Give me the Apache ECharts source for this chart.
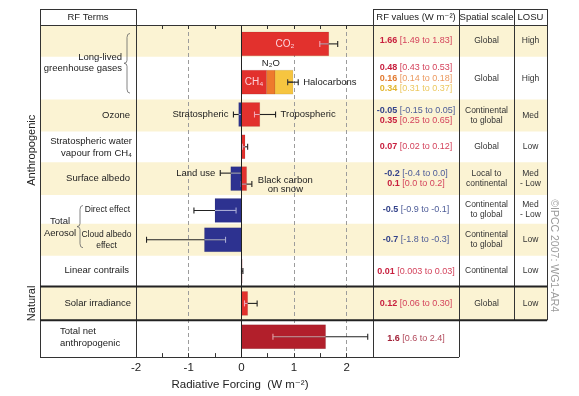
<!DOCTYPE html>
<html>
<head>
<meta charset="utf-8">
<title>Radiative forcing components</title>
<script src="https://cdn.jsdelivr.net/npm/echarts@6/dist/echarts.min.js"></script>
<style>
  html, body { margin: 0; padding: 0; background: #fff; }
  #chart { width: 579px; height: 396px; }
</style>
</head>
<body>
<div id="chart"></div>
<script>
// ---- values ----
var barNames = ['CO₂', 'CH₄', 'N₂O', 'Halocarbons', 'Stratospheric ozone', 'Tropospheric ozone',
  'Stratospheric water vapour', 'Land use', 'Black carbon on snow', 'Aerosol direct effect',
  'Cloud albedo effect', 'Linear contrails', 'Solar irradiance', 'Total net anthropogenic'];
var barRow = [0, 1, 1, 1, 2, 2, 3, 4, 4, 5, 6, 7, 8, 9];
var barValue = [1.66, 0.48, 0.16, 0.34, -0.05, 0.35, 0.07, -0.2, 0.1, -0.5, -0.7, 0.01, 0.12, 1.6];
var barTone = ['red', 'red', 'orange', 'yellow', 'blue', 'red', 'red', 'blue', 'red', 'blue', 'blue', 'red', 'red', 'darkred'];
// uncertainty whiskers as drawn on the plot
var whiskerLow = [1.49, null, null, 0.88, -0.15, 0.25, 0.02, -0.4, 0.0, -0.9, -1.8, 0.003, 0.06, 0.6];
var whiskerHigh = [1.83, null, null, 1.08, 0.05, 0.65, 0.12, 0.0, 0.2, -0.1, -0.3, 0.03, 0.30, 2.4];
var barLabel = ['CO₂', 'CH₄', 'N₂O', 'Halocarbons', 'Stratospheric', 'Tropospheric', '',
  'Land use', 'Black carbon\non snow', '', '', '', '', ''];

var headers = ['RF Terms', 'RF values (W m⁻²)', 'Spatial scale', 'LOSU'];
var termText = ['Long-lived\ngreenhouse gases', 'Ozone', 'Stratospheric water\nvapour from CH₄',
  'Surface albedo', 'Total\nAerosol', 'Direct effect', 'Cloud albedo\neffect', 'Linear contrails',
  'Solar irradiance', 'Total net\nanthropogenic'];
var groupText = ['Anthropogenic', 'Natural'];

var rfValue = [['1.66'], ['0.48', '0.16', '0.34'], ['-0.05', '0.35'], ['0.07'], ['-0.2', '0.1'],
  ['-0.5'], ['-0.7'], ['0.01'], ['0.12'], ['1.6']];
var rfRange = [['[1.49 to 1.83]'], ['[0.43 to 0.53]', '[0.14 to 0.18]', '[0.31 to 0.37]'],
  ['[-0.15 to 0.05]', '[0.25 to 0.65]'], ['[0.02 to 0.12]'], ['[-0.4 to 0.0]', '[0.0 to 0.2]'],
  ['[-0.9 to -0.1]'], ['[-1.8 to -0.3]'], ['[0.003 to 0.03]'], ['[0.06 to 0.30]'], ['[0.6 to 2.4]']];
var rfTone = [['red'], ['red', 'orange', 'yellow'], ['blue', 'red'], ['red'], ['blue', 'red'],
  ['blue'], ['blue'], ['red'], ['red'], ['darkred']];
var spatialScale = ['Global', 'Global', 'Continental\nto global', 'Global', 'Local to\ncontinental',
  'Continental\nto global', 'Continental\nto global', 'Continental', 'Global', ''];
var losu = ['High', 'High', 'Med', 'Low', 'Med\n- Low', 'Med\n- Low', 'Low', 'Low', 'Low', ''];
var credit = '©IPCC 2007: WG1-AR4';

// ---- layout / style ----
var FONT = '"Liberation Sans", Arial, "DejaVu Sans", sans-serif';
var W = 579, H = 396;
var COLS = [40, 136, 373, 459, 514, 547];
var PLOT_TOP = 25, HEADER_U = -16;
var rowHeights = [32, 43, 32, 31, 33, 29, 32, 31, 34, 37];
var rowBarShift = [3, 4, -1, 0, 0, 1, 0, 0, 0, -2];
var yellowRows = [0, 2, 4, 6, 8];
var BAR_H = 24;
var whiskerShift = [0, 0, 0, 0, 0, 0, 0, -5.5, 5.5, 0, 0, 0, 0, 0];
var labelPlace = ['inside', 'inside', 'top', 'right', 'left', 'right', null, 'left', 'rightBlock', null, null, null, null, null];

var palette = {
  red: { bar: '#e2312d', inner: '#f4a6b4', value: '#c81f3e', range: '#d4435c' },
  orange: { bar: '#ee7a2c', inner: '#333', value: '#e27a30', range: '#eb9a60' },
  yellow: { bar: '#f6c540', inner: '#333', value: '#e3b630', range: '#ecc860' },
  blue: { bar: '#2d3290', inner: '#a7aad4', value: '#34438a', range: '#4d5c98' },
  darkred: { bar: '#b21f2b', inner: '#e8a0a6', value: '#a3233a', range: '#b24a5c' }
};

var rowTop = [];
(function () {
  var acc = 0;
  rowHeights.forEach(function (h) { rowTop.push(acc); acc += h; });
})();
var PLOT_H = rowHeights.reduce(function (a, b) { return a + b; }, 0);

function rowCenter(r) { return rowTop[r] + rowHeights[r] / 2; }

// stack same-sign values that share a row
var barBase = barValue.map(function (v, i) {
  var b = 0;
  for (var j = 0; j < i; j++) {
    if (barRow[j] === barRow[i] && (barValue[j] >= 0) === (v >= 0)) b += barValue[j];
  }
  return b;
});

var measureCtx = document.createElement('canvas').getContext('2d');
function textWidth(str, size) {
  measureCtx.font = size + 'px ' + FONT;
  return Math.max.apply(Math, str.split('\n').map(function (s) { return measureCtx.measureText(s).width; }));
}

function seg(x1, y1, x2, y2, color, w) {
  return { type: 'line', shape: { x1: x1, y1: y1, x2: x2, y2: y2 }, style: { stroke: color, lineWidth: w || 1 } };
}
function txt(x, y, text, o) {
  var s = { x: x, y: y, text: text, fontFamily: FONT, fontSize: 9, fill: '#222', align: 'center', verticalAlign: 'middle' };
  for (var k in (o || {})) s[k] = o[k];
  return { type: 'text', style: s };
}

function renderBands(params, api) {
  var kids = yellowRows.map(function (r) {
    var y0 = api.coord([0, rowTop[r]])[1];
    var y1 = api.coord([0, rowTop[r] + rowHeights[r]])[1];
    return { type: 'rect', shape: { x: COLS[0], y: y0, width: COLS[5] - COLS[0], height: y1 - y0 }, style: { fill: '#fbf3d3' } };
  });
  return { type: 'group', children: kids };
}

function renderBar(params, api) {
  var i = params.dataIndex;
  var r = barRow[i];
  var v = api.value(0);
  var pal = palette[barTone[i]];
  var X = function (x) { return api.coord([x, 0])[0]; };
  var xa = X(barBase[i]), xb = X(barBase[i] + v);
  var left = Math.min(xa, xb), right = Math.max(xa, xb);
  var yc = api.coord([0, rowCenter(r) + rowBarShift[r]])[1];
  var h = api.size([0, BAR_H])[1];
  var kids = [{
    type: 'rect',
    shape: { x: left, y: yc - h / 2, width: Math.max(right - left, 0.8), height: h },
    style: { fill: pal.bar, stroke: 'rgba(0,0,0,0.15)', lineWidth: 0.6 }
  }];
  var wy = yc + whiskerShift[i];
  var wl = null, wh = null;
  if (whiskerLow[i] != null) {
    wl = X(whiskerLow[i]); wh = X(whiskerHigh[i]);
    kids.push(seg(wl, wy, wh, wy, '#222', 1.1));
    var il = Math.max(wl, left), ir = Math.min(wh, right);
    if (ir > il) kids.push(seg(il, wy, ir, wy, pal.inner, 1.1));
    [wl, wh].forEach(function (x) {
      var inside = x >= left - 0.2 && x <= right - 0.5 && right - left > 3;
      kids.push(seg(x, wy - 3, x, wy + 3, inside ? pal.inner : '#222', 1.1));
    });
  }
  var label = barLabel[i], place = labelPlace[i];
  if (label && place) {
    if (place === 'inside') {
      kids.push(txt((left + right) / 2, yc, label, { fontSize: 10, fill: '#fbd3dc' }));
    } else if (place === 'top') {
      kids.push(txt((left + right) / 2, yc - h / 2 - 7, label, { fontSize: 9.5 }));
    } else if (place === 'left') {
      kids.push(txt(wl - 5, wy, label, { fontSize: 9.5, align: 'right' }));
    } else if (place === 'right') {
      kids.push(txt(wh + 5, wy, label, { fontSize: 9.5, align: 'left' }));
    } else if (place === 'rightBlock') {
      var bw = textWidth(label, 9.5);
      kids.push(txt(wh + 6 + bw / 2, wy + 1, label, { fontSize: 9.5, lineHeight: 9 }));
    }
  }
  return { type: 'group', children: kids };
}

function brace(x, y0, y1) {
  var ym = (y0 + y1) / 2, xe = x - 1, xt = x - 4;
  var d = 'M' + (x + 2) + ',' + y0 + ' Q' + xe + ',' + y0 + ' ' + xe + ',' + (y0 + 4) +
    ' L' + xe + ',' + (ym - 3) + ' Q' + xe + ',' + ym + ' ' + xt + ',' + ym +
    ' Q' + xe + ',' + ym + ' ' + xe + ',' + (ym + 3) +
    ' L' + xe + ',' + (y1 - 4) + ' Q' + xe + ',' + y1 + ' ' + (x + 2) + ',' + y1;
  return { type: 'path', shape: { pathData: d }, style: { stroke: '#666', lineWidth: 0.8, fill: null } };
}

function renderFrame(params, api) {
  var Y = function (u) { return api.coord([0, u])[1]; };
  var X = function (v) { return api.coord([v, 0])[0]; };
  var kids = [];
  var crisp = function (p) { return Math.round(p) + 0.5; };
  var dark = '#333';
  var yHead = Y(HEADER_U), yTop = Y(0), yBot = Y(PLOT_H);
  var yNat = Y(rowTop[8]), yNet = Y(rowTop[9]);

  // zero line
  kids.push(seg(crisp(X(0)), yTop, crisp(X(0)), yBot, '#222', 1));

  // table verticals
  [COLS[0], COLS[1], COLS[2], COLS[3]].forEach(function (x) {
    kids.push(seg(crisp(x), yHead, crisp(x), yBot, dark, 1));
  });
  [COLS[4], COLS[5]].forEach(function (x) {
    kids.push(seg(crisp(x), yHead, crisp(x), yNet, dark, 1));
  });
  // table horizontals
  kids.push(seg(COLS[0], crisp(yHead), COLS[1], crisp(yHead), dark, 1));
  kids.push(seg(COLS[2], crisp(yHead), COLS[5], crisp(yHead), dark, 1));
  kids.push(seg(COLS[0], crisp(yTop), COLS[5], crisp(yTop), dark, 1));
  kids.push(seg(COLS[0], yNat, COLS[5], yNat, '#222', 2));
  kids.push(seg(COLS[0], yNet, COLS[5], yNet, '#222', 2));
  kids.push(seg(COLS[0], crisp(yBot), COLS[3], crisp(yBot), dark, 1));

  // headers
  var hy = (yHead + yTop) / 2;
  kids.push(txt((COLS[0] + COLS[1]) / 2, hy, headers[0], { fontSize: 9.5 }));
  kids.push(txt((COLS[2] + COLS[3]) / 2, hy, headers[1], { fontSize: 9.5 }));
  kids.push(txt((COLS[3] + COLS[4]) / 2, hy, headers[2], { fontSize: 9.5 }));
  kids.push(txt((COLS[4] + COLS[5]) / 2, hy, headers[3], { fontSize: 9.5 }));

  // RF terms column
  var termPos = [
    [122, 38, 'right', 9.5], [130, 91, 'right', 9.5], [132, 123, 'right', 9.5], [130, 154, 'right', 9.5],
    [60, 203.5, 'center', 9.5], [130, 186, 'right', 8.5], [106.5, 216.5, 'center', 8.5],
    [129, 247, 'right', 9.5], [131, 280, 'right', 9.5], [60, 314, 'left', 9.5]
  ];
  termText.forEach(function (t, k) {
    var p = termPos[k];
    kids.push(txt(p[0], Y(p[1]), t, { align: p[2], fontSize: p[3], lineHeight: 11.5 }));
  });
  kids.push(brace(128, Y(8.5), Y(68.5)));
  kids.push(brace(81, Y(181.5), Y(224)));

  // section labels
  [[126, groupText[0]], [280, groupText[1]]].forEach(function (g) {
    kids.push({
      type: 'text', x: 32, y: Y(g[0]), rotation: Math.PI / 2,
      style: { x: 0, y: 0, text: g[1], fontFamily: FONT, fontSize: 11, fill: '#222', align: 'center', verticalAlign: 'middle' }
    });
  });
  kids.push({
    type: 'text', x: 554, y: Y(232), rotation: -Math.PI / 2,
    style: { x: 0, y: 0, text: credit, fontFamily: FONT, fontSize: 10.5, fill: '#9a9a9a', align: 'center', verticalAlign: 'middle' }
  });

  // RF values, spatial scale, LOSU
  rfValue.forEach(function (vals, r) {
    var n = vals.length, c = rowCenter(r);
    vals.forEach(function (v, k) {
      var pal = palette[rfTone[r][k]];
      var u = c + (k - (n - 1) / 2) * 10.8;
      kids.push(txt((COLS[2] + COLS[3]) / 2, Y(u), '{b|' + v + '} {n|' + rfRange[r][k] + '}', {
        fill: pal.range,
        rich: {
          b: { fontWeight: 'bold', fill: pal.value, fontSize: 9, fontFamily: FONT },
          n: { fill: pal.range, fontSize: 9, fontFamily: FONT }
        }
      }));
    });
    if (spatialScale[r]) kids.push(txt((COLS[3] + COLS[4]) / 2, Y(c), spatialScale[r], { fontSize: 8.5, fill: '#333', lineHeight: 10.5 }));
    if (losu[r]) kids.push(txt((COLS[4] + COLS[5]) / 2, Y(c), losu[r], { fontSize: 8.5, fill: '#333', lineHeight: 10.5 }));
  });

  return { type: 'group', children: kids };
}

var axisCommon = {
  type: 'value', min: -2, max: 2.5, interval: 1,
  axisLine: { show: true, onZero: false, lineStyle: { color: '#333', width: 1 } },
  axisTick: { show: true, inside: true, length: 4, lineStyle: { color: '#333' } },
  minorTick: { show: true, splitNumber: 2, length: 4, lineStyle: { color: '#333' } }
};

var chart = echarts.init(document.getElementById('chart'), null, { renderer: 'canvas' });
chart.setOption({
  animation: false,
  textStyle: { fontFamily: FONT },
  grid: { left: COLS[1], right: W - COLS[2], top: PLOT_TOP, bottom: H - PLOT_TOP - PLOT_H },
  xAxis: [
    Object.assign({}, axisCommon, {
      position: 'bottom',
      name: 'Radiative Forcing  (W m⁻²)',
      nameLocation: 'middle', nameGap: 15,
      nameTextStyle: { fontSize: 11.5, color: '#222', fontFamily: FONT, padding: [0, 29, 0, 0] },
      axisLabel: { color: '#222', fontSize: 11.5, margin: 5, showMaxLabel: false, fontFamily: FONT },
      splitLine: { show: true, lineStyle: { color: '#9c9c9c', type: [4, 3], width: 1 } }
    }),
    Object.assign({}, axisCommon, {
      position: 'top',
      axisLabel: { show: false },
      splitLine: { show: false }
    })
  ],
  yAxis: { type: 'value', min: 0, max: PLOT_H, inverse: true, show: false },
  series: [
    { type: 'custom', name: 'bands', z: -1, silent: true, renderItem: renderBands, data: [[0, 0]] },
    {
      type: 'custom', name: 'forcing', z: 3, renderItem: renderBar,
      data: barValue.map(function (v, i) { return { name: barNames[i], value: [v, i] }; })
    },
    { type: 'custom', name: 'table', z: 4, silent: true, renderItem: renderFrame, data: [[0, 0]] }
  ]
});
</script>
</body>
</html>
